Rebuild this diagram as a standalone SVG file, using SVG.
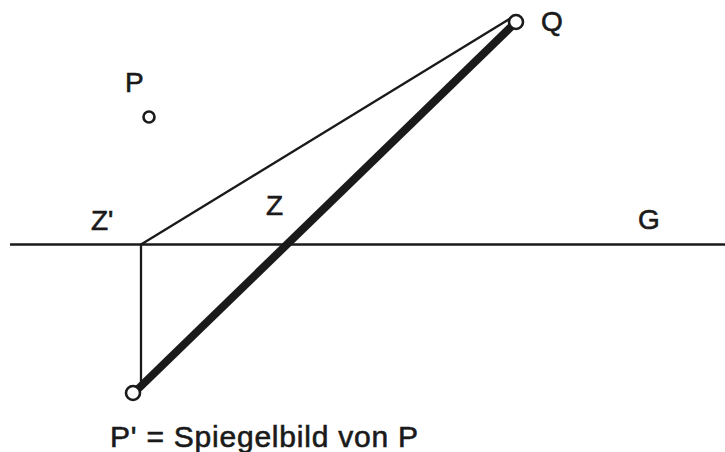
<svg xmlns="http://www.w3.org/2000/svg" width="725" height="452" viewBox="0 0 725 452">
<style>
.t{font-family:"Liberation Sans",Arial,sans-serif;font-size:28px;fill:#1a1a1a;stroke:#1a1a1a;stroke-width:0.6}
.thin{stroke:#1a1a1a;stroke-width:2.3;fill:none}
.pt{fill:#fff;stroke:#1a1a1a;stroke-width:2.6}
</style>
<rect width="725" height="452" fill="#fff"/>
<g id="connectors">
<line class="thin" x1="10" y1="244.5" x2="725" y2="244.5"/>
<line class="thin" x1="141" y1="244" x2="141" y2="388"/>
<line class="thin" x1="141" y1="244.5" x2="511" y2="18"/>
<line x1="138" y1="389" x2="513" y2="25" stroke="#1a1a1a" stroke-width="8"/>
</g>
<g id="Q"><circle class="pt" cx="516" cy="22" r="7"/><text class="t" x="541" y="31">Q</text></g>
<g id="P"><circle class="pt" cx="149" cy="117" r="5.5"/><text class="t" x="125" y="92">P</text></g>
<g id="Pprime"><circle class="pt" cx="133" cy="393" r="7"/></g>
<g id="Zprime"><text class="t" x="91" y="230">Z'</text></g>
<g id="Z"><text class="t" x="266" y="215">Z</text></g>
<g id="G"><text class="t" x="638" y="229">G</text></g>
<g id="caption"><text class="t" x="110" y="447" style="font-size:30px" textLength="308">P' = Spiegelbild von P</text></g>
</svg>
